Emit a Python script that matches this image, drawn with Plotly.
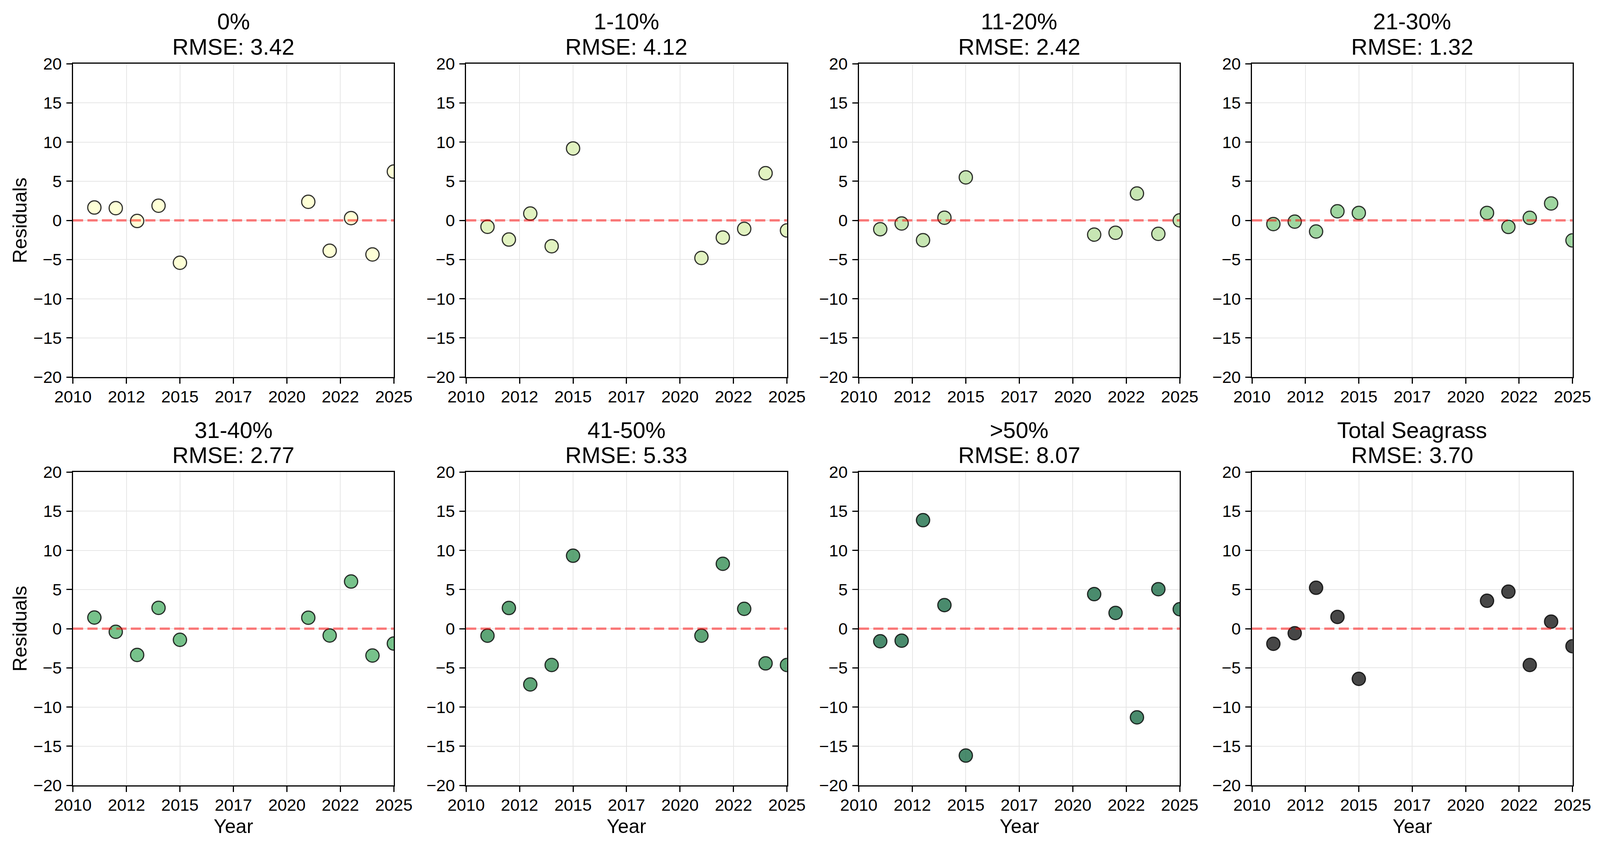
import plotly.graph_objects as go
from plotly.subplots import make_subplots

# ---- data -------------------------------------------------------------
years = [2011, 2012, 2013, 2014, 2015, 2021, 2022, 2023, 2024, 2025]

categories = ["0%", "1-10%", "11-20%", "21-30%", "31-40%", "41-50%", ">50%", "Total Seagrass"]
rmse = ["3.42", "4.12", "2.42", "1.32", "2.77", "5.33", "8.07", "3.70"]

res_0 = [1.64, 1.56, -0.08, 1.87, -5.41, 2.37, -3.88, 0.29, -4.35, 6.23]
res_1_10 = [-0.82, -2.45, 0.87, -3.30, 9.18, -4.80, -2.19, -1.08, 6.02, -1.29]
res_11_20 = [-1.13, -0.40, -2.53, 0.34, 5.49, -1.82, -1.58, 3.43, -1.72, 0.0]
res_21_30 = [-0.47, -0.16, -1.42, 1.16, 0.95, 0.95, -0.84, 0.32, 2.16, -2.56]
res_31_40 = [1.42, -0.40, -3.35, 2.66, -1.42, 1.40, -0.87, 6.02, -3.43, -1.90]
res_41_50 = [-0.90, 2.64, -7.12, -4.64, 9.31, -0.90, 8.28, 2.53, -4.43, -4.64]
res_gt50 = [-1.61, -1.53, 13.85, 3.01, -16.20, 4.41, 2.01, -11.32, 5.04, 2.48]
res_total = [-1.93, -0.58, 5.22, 1.50, -6.41, 3.56, 4.72, -4.64, 0.90, -2.24]

series = [res_0, res_1_10, res_11_20, res_21_30, res_31_40, res_41_50, res_gt50, res_total]
fill_colors = [
    "rgba(254,255,204,0.8)", "rgba(219,240,177,0.8)", "rgba(185,224,160,0.8)",
    "rgba(135,204,136,0.8)", "rgba(85,179,110,0.8)", "rgba(54,143,85,0.8)",
    "rgba(29,110,72,0.8)", "rgba(25,25,25,0.8)",
]

x_tickvals = [2010, 2012.5, 2015, 2017.5, 2020, 2022.5, 2025]
x_ticktext = ["2010", "2012", "2015", "2017", "2020", "2022", "2025"]
y_tickvals = [-20, -15, -10, -5, 0, 5, 10, 15, 20]

# ---- layout geometry ----------------------------------------------------
# reference canvas 4363x2155, browser viewport 4096x2155 with 8px body margin
REF_W = 4363
VIEW_W, VIEW_H = 4096, 2155
BODY = 8
W, H = VIEW_W - 2 * BODY, VIEW_H - 2 * BODY
S = VIEW_W / REF_W


def px_x(xr):
    return (xr * S - BODY) / W


def px_y(yr):
    return 1 - (yr - BODY) / H


x_px = [(199, 1074), (1271, 2146), (2342, 3217), (3414, 4288)]
y_px = [(163, 965), (1208, 2010)]

FONT = "Liberation Sans, Arial, sans-serif"
TITLE_SIZE = 58
TICK_SIZE = 43
LABEL_SIZE = 50

fig = make_subplots(rows=2, cols=4)

for i, vals in enumerate(series):
    r, c = i // 4 + 1, i % 4 + 1
    fig.add_trace(go.Scatter(
        x=years, y=vals, mode="markers",
        marker=dict(size=34, color=fill_colors[i], line=dict(color="rgba(0,0,0,0.8)", width=3)),
        showlegend=False, cliponaxis=True, name=categories[i],
    ), row=r, col=c)
    fig.add_hline(y=0, line=dict(color="rgba(255,0,0,0.5)", width=6, dash="26px,11px"), row=r, col=c)

for i in range(8):
    r, c = i // 4, i % 4
    xd = [px_x(x_px[c][0]), px_x(x_px[c][1])]
    yd = [px_y(y_px[r][1]), px_y(y_px[r][0])]
    xname = "xaxis" if i == 0 else f"xaxis{i+1}"
    yname = "yaxis" if i == 0 else f"yaxis{i+1}"
    common = dict(
        showline=True, mirror=True, linecolor="black", linewidth=3,
        ticks="outside", ticklen=14, tickwidth=3, tickcolor="black",
        showgrid=True, gridcolor="#e6e6e6", gridwidth=2, zeroline=False,
        tickfont=dict(family=FONT, size=TICK_SIZE, color="black"), automargin=False,
    )
    fig.layout[xname].update(domain=xd, range=[2010, 2025], tickvals=x_tickvals,
                             ticktext=x_ticktext, ticklabelstandoff=-4, **common)
    fig.layout[yname].update(domain=yd, range=[-20, 20], tickvals=y_tickvals,
                             ticklabelstandoff=3, **common)

    xc = (xd[0] + xd[1]) / 2
    # two-line subplot title
    fig.add_annotation(x=xc, y=px_y(55), xref="paper", yref="paper",
                       xanchor="center", yanchor="middle", showarrow=False,
                       text=categories[i], font=dict(family=FONT, size=TITLE_SIZE, color="black"))
    fig.add_annotation(x=xc, y=px_y(119) if r == 0 else px_y(119 + 1045), xref="paper", yref="paper",
                       xanchor="center", yanchor="middle", showarrow=False,
                       text=f"RMSE: {rmse[i]}", font=dict(family=FONT, size=TITLE_SIZE, color="black"))
    if r == 1:
        fig.layout.annotations[-2].y = px_y(55 + 1045)
        fig.add_annotation(x=xc, y=px_y(2115), xref="paper", yref="paper",
                           xanchor="center", yanchor="middle", showarrow=False,
                           text="Year", font=dict(family=FONT, size=LABEL_SIZE, color="black"))
    if c == 0:
        fig.add_annotation(x=px_x(54), y=(yd[0] + yd[1]) / 2, xref="paper", yref="paper",
                           xanchor="center", yanchor="middle", showarrow=False, textangle=-90,
                           text="Residuals", font=dict(family=FONT, size=LABEL_SIZE, color="black"))

fig.update_layout(
    template="none",
    width=W, height=H, margin=dict(l=0, r=0, t=0, b=0, autoexpand=False),
    paper_bgcolor="white", plot_bgcolor="white",
    font=dict(family=FONT, color="black"),
)

fig.write_html("out.html")
